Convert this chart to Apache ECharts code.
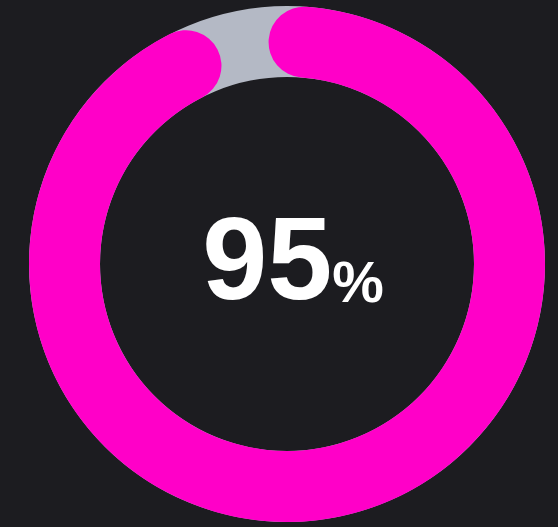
<!DOCTYPE html>
<html>
<head>
<meta charset="utf-8">
<script src="https://cdn.jsdelivr.net/npm/echarts@6/dist/echarts.min.js"></script>
<style>
  html, body { margin: 0; padding: 0; background: #1c1c20; }
  #chart { width: 558px; height: 527px; }
</style>
</head>
<body>
<div id="chart"></div>
<script>
// gauge data
const names = ['Progress'];
const values = [95];
const maxValues = [100];

const chart = echarts.init(document.getElementById('chart'));

// arc geometry: starts just right of 12 o'clock,
// 95 lands a little past 11 o'clock
const startAngle = 85.6;
const sweepAt95 = 328.6;
const endAngle = startAngle - sweepAt95 * maxValues[0] / values[0];

const center = [287, 264];
const radius = 258;
const ringWidth = 71;

chart.setOption({
  backgroundColor: '#1c1c20',
  series: [
    {
      // grey track, full ring
      type: 'gauge',
      center: center,
      radius: radius,
      startAngle: 90,
      endAngle: -270,
      min: 0,
      max: maxValues[0],
      axisLine: { lineStyle: { width: ringWidth, color: [[1, '#b4b9c5']] } },
      splitLine: { show: false },
      axisTick: { show: false },
      axisLabel: { show: false },
      pointer: { show: false },
      title: { show: false },
      detail: { show: false },
      data: [{ value: 0 }]
    },
    {
      type: 'gauge',
      center: center,
      radius: radius,
      startAngle: startAngle,
      endAngle: endAngle,
      min: 0,
      max: maxValues[0],
      axisLine: { show: false },
      progress: {
        show: true,
        width: ringWidth,
        roundCap: true,
        itemStyle: { color: '#ff00c8' }
      },
      splitLine: { show: false },
      axisTick: { show: false },
      axisLabel: { show: false },
      pointer: { show: false },
      title: { show: false },
      anchor: { show: false },
      detail: {
        offsetCenter: [6, 3],
        formatter: v => '{a|' + v + '}{b|%}',
        rich: {
          a: { fontFamily: 'Liberation Sans', fontWeight: 'bold', fontSize: 117, lineHeight: 117, verticalAlign: 'bottom', color: '#ffffff' },
          b: { fontFamily: 'Liberation Sans', fontWeight: 'bold', fontSize: 58, lineHeight: 58, verticalAlign: 'bottom', padding: [0, 0, 11, 0], color: '#ffffff' }
        }
      },
      data: values.map((v, i) => ({ value: v, name: names[i] }))
    }
  ]
});
</script>
</body>
</html>
